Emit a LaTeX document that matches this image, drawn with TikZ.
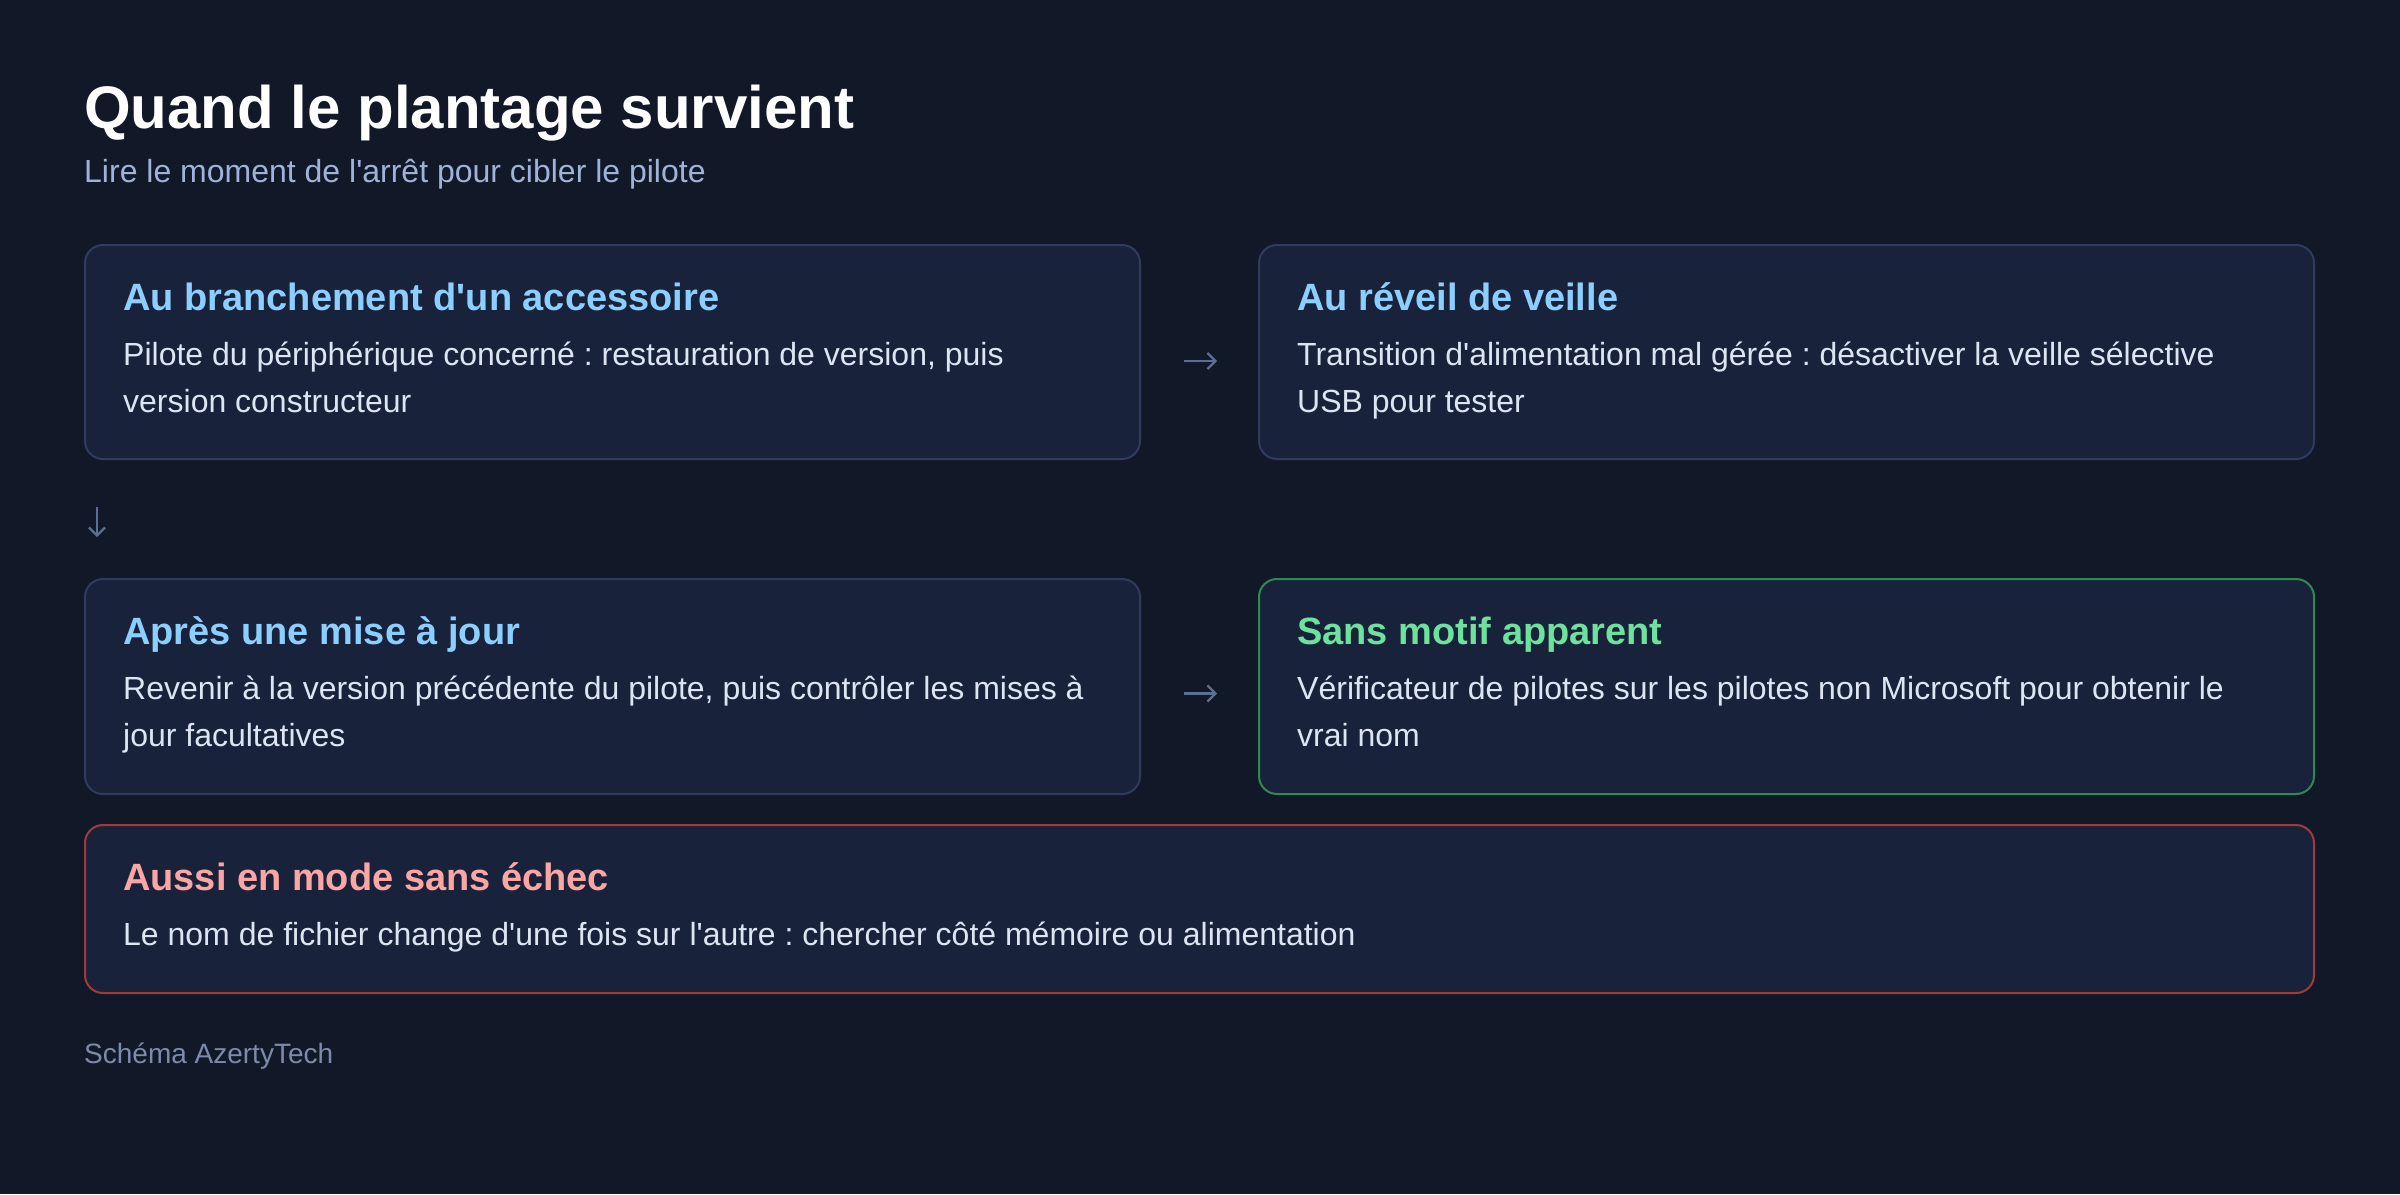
\documentclass[tikz,border=0pt]{standalone}
\usepackage{fontspec}
\setmainfont{Liberation Sans}[Ligatures=TeXOff]
\frenchspacing
\usetikzlibrary{arrows.meta}
\definecolor{bg}{HTML}{111827}
\definecolor{boxfill}{HTML}{18223A}
\definecolor{boxline}{HTML}{2E3D5E}
\definecolor{headblue}{HTML}{8CCFFF}
\definecolor{headgreen}{HTML}{6EE29C}
\definecolor{linegreen}{HTML}{2F8A4F}
\definecolor{headred}{HTML}{FCA5A5}
\definecolor{linered}{HTML}{A33A3A}
\definecolor{bodytxt}{HTML}{DDE5F2}
\definecolor{subtxt}{HTML}{9FB2D8}
\definecolor{foottxt}{HTML}{7B8BAB}
\definecolor{arrowc}{HTML}{5B6E94}
\tikzset{
  card/.style={draw=boxline, fill=boxfill, line width=2pt, rounded corners=18pt, inner sep=0pt, outer sep=0pt},
  cardgreen/.style={card, draw=linegreen},
  cardred/.style={card, draw=linered},
  head/.style={anchor=base west, inner sep=0pt, font=\fontsize{38}{44}\selectfont\bfseries, text=headblue},
  body/.style={anchor=base west, inner sep=0pt, font=\fontsize{32}{47}\selectfont, text=bodytxt},
  conn/.style={draw=arrowc, line width=2.2pt, -{Straight Barb[length=8pt,width=16pt,line width=2.2pt]}},
}
\begin{document}
\begin{tikzpicture}[x=1pt,y=-1pt]
\fill[bg] (0,0) rectangle (2400,1194);
\useasboundingbox (0,0) rectangle (2400,1194);
% title
\node[anchor=base west, inner sep=0pt, font=\fontsize{60}{70}\selectfont\bfseries, text=white] (title) at (84,128) {Quand le plantage survient};
\node[anchor=base west, inner sep=0pt, font=\fontsize{32}{40}\selectfont, text=subtxt] (subtitle) at (84,182) {Lire le moment de l'arrêt pour cibler le pilote};
% boxes
\node[card, minimum width=1055pt, minimum height=214pt, anchor=north west] (b1) at (85,245) {};
\node[card, minimum width=1055pt, minimum height=214pt, anchor=north west] (b2) at (1259,245) {};
\node[card, minimum width=1055pt, minimum height=215pt, anchor=north west] (b3) at (85,579) {};
\node[cardgreen, minimum width=1055pt, minimum height=215pt, anchor=north west] (b4) at (1259,579) {};
\node[cardred, minimum width=2229pt, minimum height=168pt, anchor=north west] (b5) at (85,825) {};
% box 1
\node[head] (h1) at (123,310) {Au branchement d'un accessoire};
\node[body] (t1a) at (123,365) {Pilote du périphérique concerné : restauration de version, puis};
\node[body] (t1b) at (123,412) {version constructeur};
% box 2
\node[head] (h2) at (1297,310) {Au réveil de veille};
\node[body] (t2a) at (1297,365) {Transition d'alimentation mal gérée : désactiver la veille sélective};
\node[body] (t2b) at (1297,412) {USB pour tester};
% box 3
\node[head] (h3) at (123,644) {Après une mise à jour};
\node[body] (t3a) at (123,699) {Revenir à la version précédente du pilote, puis contrôler les mises à};
\node[body] (t3b) at (123,746) {jour facultatives};
% box 4
\node[head, text=headgreen] (h4) at (1297,644) {Sans motif apparent};
\node[body] (t4a) at (1297,699) {Vérificateur de pilotes sur les pilotes non Microsoft pour obtenir le};
\node[body] (t4b) at (1297,746) {vrai nom};
% box 5
\node[head, text=headred] (h5) at (123,890) {Aussi en mode sans échec};
\node[body] (t5a) at (123,945) {Le nom de fichier change d'une fois sur l'autre : chercher côté mémoire ou alimentation};
% connectors
\draw[conn, shorten <=44pt, shorten >=42pt] ([yshift=-9pt]b1.east) -- ([yshift=-9pt]b2.west);
\draw[conn, shorten <=44pt, shorten >=42pt] ([yshift=-7pt]b3.east) -- ([yshift=-7pt]b4.west);
\draw[conn, shorten <=48pt, shorten >=42pt] ([xshift=12pt]b1.south west) -- ([xshift=12pt]b3.north west);
% footer
\node[anchor=base west, inner sep=0pt, font=\fontsize{28}{34}\selectfont, text=foottxt] (footer) at (84,1063) {Schéma AzertyTech};
\end{tikzpicture}
\end{document}
